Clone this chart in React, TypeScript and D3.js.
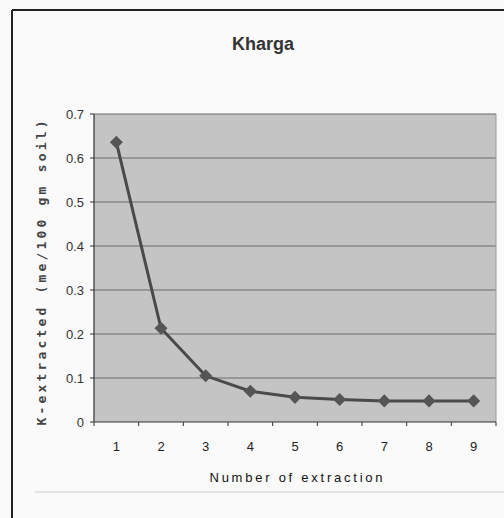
import * as d3 from 'd3';

// extraction number and extracted K (me/100 gm soil)
const extractions = ['1', '2', '3', '4', '5', '6', '7', '8', '9'];
const kValues = [0.636, 0.213, 0.105, 0.07, 0.056, 0.051, 0.048, 0.048, 0.048];
const yTicks = [0, 0.1, 0.2, 0.3, 0.4, 0.5, 0.6, 0.7];

const W = 504;
const H = 518;
const margin = {top: 114, right: 8, bottom: 96, left: 94};

export default function App() {
  const width = W - margin.left - margin.right;
  const height = H - margin.top - margin.bottom;

  const x = d3.scaleBand().domain(extractions).range([0, width]);
  const y = d3.scaleLinear().domain([0, 0.7]).range([height, 0]);

  const line = d3
    .line<number>()
    .x((d, i) => x(extractions[i])! + x.bandwidth() / 2)
    .y(d => y(d));

  const diamond = d3.symbol().type(d3.symbolSquare).size(85)()!;

  return (
    <svg
      width={W}
      height={H}
      style={{position: 'absolute', left: 0, top: 0, background: '#fafafa'}}
      fontFamily="'Liberation Sans', Arial, sans-serif">
      {/* outer frame (left and top only visible) */}
      <line x1={12} x2={W} y1={10} y2={10} stroke="#222" strokeWidth={2} />
      <line x1={12} x2={12} y1={10} y2={H} stroke="#222" strokeWidth={2} />
      <line x1={35} x2={W} y1={492} y2={492} stroke="#ccc" strokeWidth={1} />

      <text x={263} y={50} textAnchor="middle" fontSize={18} fontWeight="bold" fill="#333">
        Kharga
      </text>

      <g transform={`translate(${margin.left},${margin.top})`}>
        <rect width={width} height={height} fill="#c4c4c4" />
        {yTicks.slice(1).map(t => (
          <line key={t} x1={0} x2={width} y1={y(t)} y2={y(t)} stroke="#6a6a6a" strokeWidth={1} />
        ))}
        <line x1={width} x2={width} y1={0} y2={height} stroke="#999" />

        {/* y axis */}
        <line x1={0} x2={0} y1={0} y2={height} stroke="#333" strokeWidth={1.2} />
        {yTicks.map(t => (
          <g key={t} transform={`translate(0,${y(t)})`}>
            <line x1={-4} x2={0} stroke="#333" />
            <text x={-10} dy="0.35em" textAnchor="end" fontSize={13} fill="#333">
              {t === 0 ? '0' : t.toFixed(1)}
            </text>
          </g>
        ))}

        {/* x axis */}
        <line x1={0} x2={width} y1={height} y2={height} stroke="#333" strokeWidth={1.2} />
        {extractions.map(c => (
          <line key={'t' + c} x1={x(c)!} x2={x(c)!} y1={height} y2={height + 4} stroke="#333" />
        ))}
        <line x1={width} x2={width} y1={height} y2={height + 4} stroke="#333" />
        {extractions.map(c => (
          <text
            key={'l' + c}
            x={x(c)! + x.bandwidth() / 2}
            y={height + 29}
            textAnchor="middle"
            fontSize={13}
            fill="#222">
            {c}
          </text>
        ))}

        <path d={line(kValues)!} fill="none" stroke="#4a4a4a" strokeWidth={3} />
        {kValues.map((v, i) => (
          <path
            key={i}
            d={diamond}
            transform={`translate(${x(extractions[i])! + x.bandwidth() / 2},${y(v)}) rotate(45)`}
            fill="#555"
          />
        ))}
      </g>

      <text
        x={296}
        y={482}
        textAnchor="middle"
        fontSize={13}
        textLength={173}
        lengthAdjust="spacing"
        fill="#111">
        Number of extraction
      </text>

      <text
        transform="translate(46,273) rotate(-90)"
        textAnchor="middle"
        fontSize={13}
        fontWeight="bold"
        fontFamily="'DejaVu Sans Mono', monospace"
        textLength={305}
        lengthAdjust="spacing"
        fill="#444">
        K-extracted (me/100 gm soil)
      </text>
    </svg>
  );
}
